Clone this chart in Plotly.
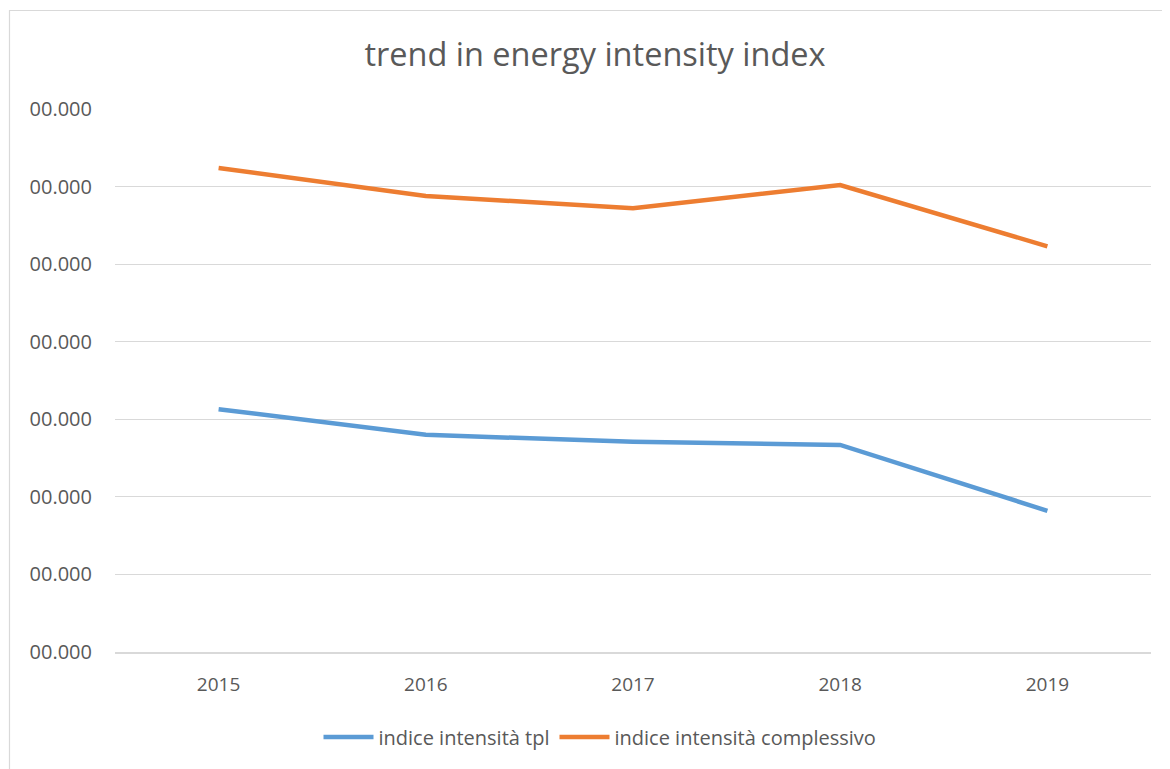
import plotly.graph_objects as go

years = ["2015", "2016", "2017", "2018", "2019"]
tpl = [3.13, 2.80, 2.71, 2.67, 1.82]
complessivo = [6.24, 5.88, 5.72, 6.02, 5.23]
y_tick_vals = [0, 1, 2, 3, 4, 5, 6, 7]
y_tick_text = ["00.000"] * 8

FONT = "Open Sans"
OFF = 8  # page body margin
W, H = 1170 - OFF, 769 - OFF
L, T = 115 - OFF, 109 - OFF
R = W - (1151 - OFF)
B = H - (652 - OFF)
pw = W - L - R
ph = H - T - B


def px_x(x):
    return (x - OFF - L) / pw


def px_y(y):
    return (H - B - (y - OFF)) / ph


fig = go.Figure()
fig.add_trace(go.Scatter(x=years, y=tpl, mode="lines", name="indice intensità tpl",
                         line=dict(color="#5b9bd5", width=4.5)))
fig.add_trace(go.Scatter(x=years, y=complessivo, mode="lines", name="indice intensità complessivo",
                         line=dict(color="#ed7d31", width=4.5)))

fig.update_layout(
    width=W, height=H,
    margin=dict(l=L, r=R, t=T, b=B, autoexpand=False),
    paper_bgcolor="white", plot_bgcolor="white",
    font=dict(family=FONT, color="#595959"),
    title=dict(text="trend in energy intensity index", x=(595 - OFF) / W, xanchor="center",
               xref="container",
               y=1 - (55 - OFF) / H, yanchor="middle",
               font=dict(size=32.5, color="#595959", family=FONT)),
    showlegend=True,
    legend=dict(orientation="h", x=px_x(600), xanchor="center", y=px_y(737), yanchor="middle",
                font=dict(size=20, color="#595959", family=FONT), itemwidth=50,
                bgcolor="rgba(0,0,0,0)"),
    xaxis=dict(type="category", showgrid=False, showline=True, linecolor="#d9d9d9", linewidth=1.5,
               ticks="", tickfont=dict(size=19, color="#595959"), ticklabelstandoff=14,
               range=[-0.5, 4.5], zeroline=False),
    yaxis=dict(range=[0, 7.0001], tickvals=y_tick_vals, ticktext=y_tick_text,
               showgrid=True, gridcolor="#d9d9d9", gridwidth=1.3, zeroline=False,
               showline=False, ticks="", tickfont=dict(size=20, color="#595959"),
               ticklabelstandoff=22),
    shapes=[
        dict(type="rect", xref="paper", yref="paper",
             x0=px_x(9.5), x1=px_x(1200), y0=px_y(800), y1=px_y(10.5),
             line=dict(color="#d9d9d9", width=1.2), fillcolor="rgba(0,0,0,0)", layer="below"),
    ],
)

fig.write_html("out.html")
